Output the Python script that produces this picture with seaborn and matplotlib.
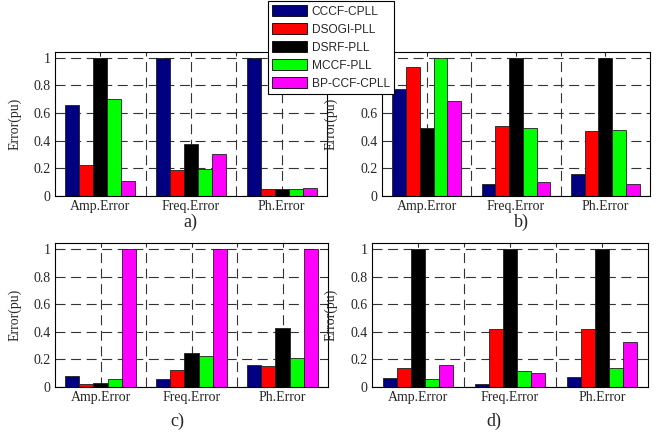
import numpy as np
import pandas as pd
import matplotlib
matplotlib.use("Agg")
import matplotlib.pyplot as plt
from matplotlib.patches import Patch
from matplotlib.ticker import FixedLocator
import seaborn as sns

metrics = ["Amp.Error", "Freq.Error", "Ph.Error"]
methods = ["CCCF-CPLL", "DSOGI-PLL", "DSRF-PLL", "MCCF-PLL", "BP-CCF-CPLL"]
colors = ["#000080", "#FF0000", "#000000", "#00FF00", "#FF00FF"]

# values per method, order: Amp, Freq, Ph
a_cccf = [0.66, 1.00, 1.00]
a_dsogi = [0.22, 0.186, 0.048]
a_dsrf = [1.00, 0.374, 0.048]
a_mccf = [0.703, 0.191, 0.048]
a_bp = [0.106, 0.30, 0.053]

b_cccf = [0.776, 0.084, 0.157]
b_dsogi = [0.933, 0.504, 0.467]
b_dsrf = [0.489, 1.00, 1.00]
b_mccf = [1.00, 0.489, 0.475]
b_bp = [0.684, 0.096, 0.084]

c_cccf = [0.08, 0.058, 0.158]
c_dsogi = [0.02, 0.122, 0.151]
c_dsrf = [0.027, 0.243, 0.43]
c_mccf = [0.058, 0.224, 0.207]
c_bp = [1.00, 1.00, 1.00]

d_cccf = [0.06, 0.022, 0.072]
d_dsogi = [0.135, 0.419, 0.419]
d_dsrf = [1.00, 1.00, 1.00]
d_mccf = [0.055, 0.118, 0.135]
d_bp = [0.159, 0.099, 0.323]

panels = {
    "a)": [a_cccf, a_dsogi, a_dsrf, a_mccf, a_bp],
    "b)": [b_cccf, b_dsogi, b_dsrf, b_mccf, b_bp],
    "c)": [c_cccf, c_dsogi, c_dsrf, c_mccf, c_bp],
    "d)": [d_cccf, d_dsogi, d_dsrf, d_mccf, d_bp],
}

sns.set_style("white")
plt.rcParams["font.family"] = ["Liberation Serif", "DejaVu Serif"]
plt.rcParams["axes.linewidth"] = 0.8

W, H = 667, 433
fig = plt.figure(figsize=(W / 100, H / 100), dpi=100)

# axes boxes in pixels: left, top, right, bottom
boxes = {
    "a)": (55, 51.7, 327, 195.7),
    "b)": (382, 51.7, 650, 195.7),
    "c)": (55, 243.3, 328, 386.7),
    "d)": (372, 243.3, 648, 386.7),
}
ylabel_x = {"a)": 22, "b)": 338, "c)": 22, "d)": 338}
sublabel_pos = {"a)": (190, 222), "b)": (521, 222), "c)": (177, 421), "d)": (494, 421)}

fs = 10
for key, vals in panels.items():
    l, t, r, b = boxes[key]
    ax = fig.add_axes([l / W, 1 - b / H, (r - l) / W, (b - t) / H])
    rows = []
    for m, v in zip(methods, vals):
        for met, val in zip(metrics, v):
            rows.append({"metric": met, "value": val, "method": m})
    df = pd.DataFrame(rows)
    sns.barplot(data=df, x="metric", y="value", hue="method", order=metrics,
                hue_order=methods, palette=colors, saturation=1, width=0.77,
                edgecolor="#202020", linewidth=0.6, ax=ax, legend=False, errorbar=None)
    ax.set_xlim(-0.5, 2.5)
    ax.set_ylim(0, 1.045)
    ax.set_yticks([0, 0.2, 0.4, 0.6, 0.8, 1.0])
    ax.set_yticklabels(["0", "0.2", "0.4", "0.6", "0.8", "1"], fontsize=fs)
    ax.set_xticks([0, 1, 2])
    ax.set_xticklabels(metrics, fontsize=fs)
    ax.xaxis.set_minor_locator(FixedLocator([0.5, 1.5]))
    ax.set_axisbelow(True)
    ax.grid(True, which="both", axis="both", color="#333333", linewidth=0.8,
            linestyle=(0, (9, 5)))
    ax.tick_params(axis="both", which="major", direction="in", length=3,
                   top=True, right=True, width=0.6, pad=3)
    ax.tick_params(axis="x", which="minor", length=0)
    ax.set_xlabel("")
    ax.set_ylabel("Error(pu)", fontsize=fs)
    lx = (ylabel_x[key] - l) / (r - l)
    ax.yaxis.set_label_coords(lx, 0.5)
    for s in ax.spines.values():
        s.set_color("black")
        s.set_linewidth(0.8)
    sx, sy = sublabel_pos[key]
    fig.text(sx / W, 1 - sy / H, key, fontsize=13, ha="center", va="center")

handles = [Patch(facecolor=c, edgecolor="black", linewidth=0.6) for c in colors]
leg = fig.legend(handles, methods, loc="upper left",
                 bbox_to_anchor=(268 / W, 1 - 1 / H),
                 prop={"family": ["Liberation Sans"], "size": 8.6},
                 frameon=True, fancybox=False, framealpha=1, edgecolor="black",
                 handlelength=2.95, handleheight=1.05, handletextpad=0.35,
                 labelspacing=0.45, borderpad=0.35, borderaxespad=0)
leg.get_frame().set_linewidth(0.8)

fig.savefig("out.png", dpi=100)
